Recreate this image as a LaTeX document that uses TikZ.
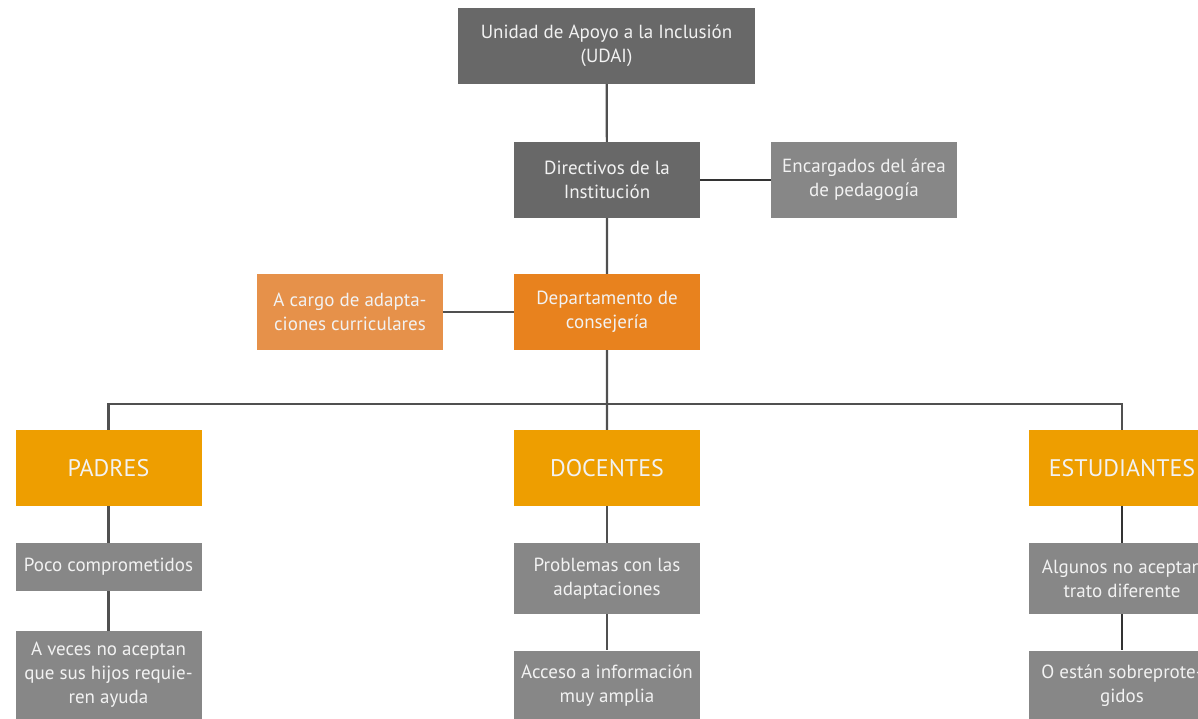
\documentclass[tikz,border=0pt]{standalone}
\usepackage{fontspec}
\setmainfont{PT Sans}
\usetikzlibrary{positioning}
\definecolor{darkbox}{HTML}{686868}
\definecolor{lightbox}{HTML}{878787}
\definecolor{deporange}{HTML}{E8821E}
\definecolor{paleorange}{HTML}{E6914A}
\definecolor{groupyellow}{HTML}{EE9E00}
\definecolor{linkgray}{HTML}{505050}
\begin{document}
\begin{tikzpicture}[
	x=1pt, y=-1pt,
	box/.style={ rectangle, inner sep=0pt, text=white!95!black, align=center,
		font=\fontsize{19}{24}\selectfont, minimum width=186pt, minimum height=76pt },
	boxd/.style={ box, fill=darkbox },
	boxl/.style={ box, fill=lightbox },
	boxo/.style={ box, fill=deporange },
	boxp/.style={ box, fill=paleorange },
	group/.style={ box, fill=groupyellow, font=\fontsize{24}{28}\selectfont },
	link/.style={ draw=linkgray, line width=2.2pt }
]

\clip (0,0) rectangle (1198,718);

% upper part of the chart
\node at (606.5,46) (udai) [boxd,minimum width=297pt] {Unidad de Apoyo a la Inclusión\\(UDAI)};
\node at (607,180) (dir) [boxd] {Directivos de la\\Institución};
\node at (864,180) (ped) [boxl] {Encargados del área\\de pedagogía};
\node at (607,312) (dep) [boxo] {Departamento de\\consejería};
\node at (350,312) (adap) [boxp] {A cargo de adapta-\\ciones curriculares};

% the three groups
\node at (108.5,468) (pad) [group] {PADRES};
\node at (607,468) (doc) [group] {DOCENTES};
\node at (1122,468) (est) [group] {ESTUDIANTES};

\node at (108.5,567) (pad1) [boxl,minimum height=48pt] {Poco comprometidos};
\node at (108.5,675) (pad2) [boxl,minimum height=88pt] {A veces no aceptan\\que sus hijos requie-\\ren ayuda};
\node at (607,578.5) (doc1) [boxl,minimum height=71pt] {Problemas con las\\adaptaciones};
\node at (607,686) (doc2) [boxl,minimum height=71pt] {Acceso a información\\muy amplia};
\node at (1122,578.5) (est1) [boxl,minimum height=71pt] {Algunos no aceptan\\trato diferente};
\node at (1122,686) (est2) [boxl,minimum height=71pt] {O están sobreprote-\\gidos};

\coordinate (bus) at (607,404);

\draw[link] (udai) to (dir) to (dep) to (doc);
\draw[link,draw=black!80] (dir) to (ped);
\draw[link] (adap) to (dep);
\draw[link] (pad) |- (bus) -| (est);
\draw[link] (pad) to (pad1) to (pad2);
\draw[link] (doc) to (doc1) to (doc2);
\draw[link,draw=black!80] (est) to (est1) to (est2);

\end{tikzpicture}
\end{document}
